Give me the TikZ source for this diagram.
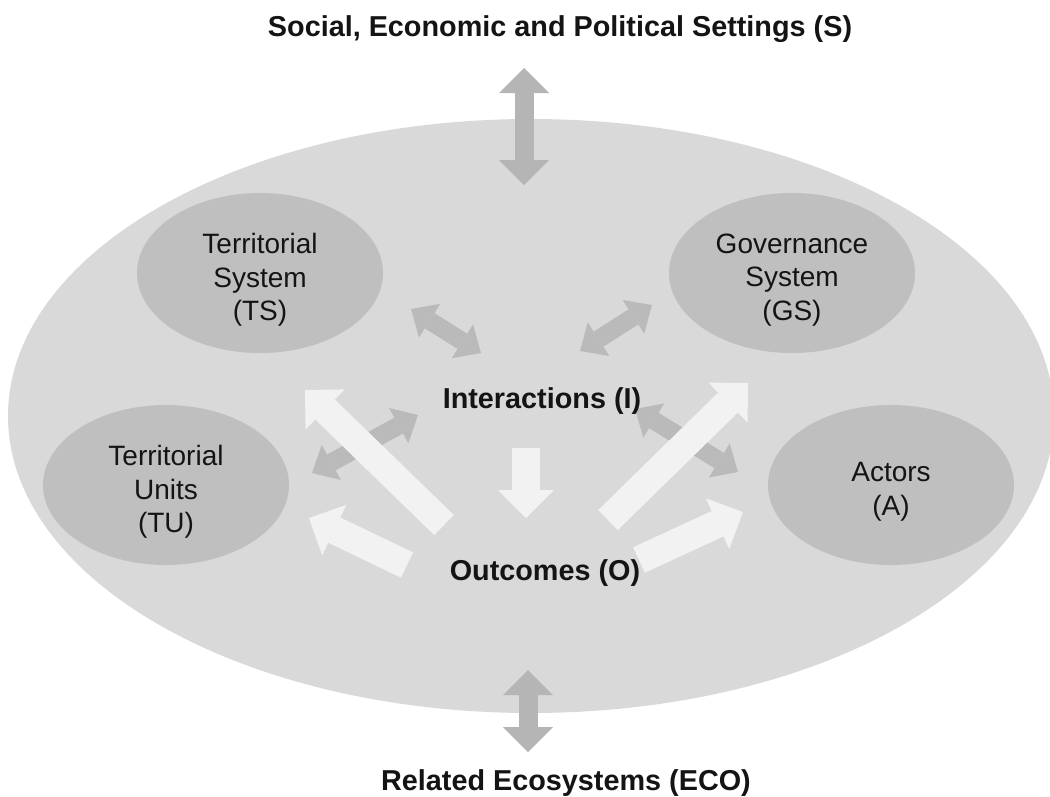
\documentclass[tikz,border=0pt]{standalone}
\usepackage{fontspec}
\setmainfont{Liberation Sans}
\usetikzlibrary{shapes.geometric,arrows.meta}

\definecolor{bgfill}{gray}{0.85}
\definecolor{elfill}{gray}{0.75}
\definecolor{iarcol}{gray}{0.73}
\definecolor{sarcol}{gray}{0.71}
\definecolor{oarcol}{gray}{0.95}
\definecolor{txtcol}{gray}{0.08}

\begin{document}
\begin{tikzpicture}
      [x=1pt,y=-1pt
      ,bell/.style={ellipse,fill=bgfill,inner sep=0pt,minimum width=1046pt,minimum height=594pt}
      ,ell/.style={ellipse,fill=elfill,inner sep=0pt,minimum width=246pt,minimum height=160pt}
      ,etxt/.style={align=center,inner sep=0pt,text=txtcol,font=\fontsize{28}{33.5}\selectfont}
      ,lbl/.style={anchor=base,inner sep=0pt,text=txtcol,font=\fontsize{28.8}{33}\selectfont\bfseries}
      ,itip/.tip={Triangle[length=22pt,width=40pt,line width=0pt]}
      ,stip/.tip={Triangle[length=25pt,width=50pt,line width=0pt]}
      ,otip/.tip={Triangle[length=28pt,width=56pt,line width=0pt]}
      ,iarr/.style={draw=iarcol,line width=18pt,{itip}-{itip}}
      ,sarr/.style={draw=sarcol,line width=19pt,{stip}-{stip}}
      ,oarr/.style={draw=oarcol,line width=28pt,-{otip}}
      ]
        \useasboundingbox (0,0) rectangle (1050,796);
        % outer system and its parts
        \node[bell] (sys) at (531,416) {};
        \node[ell] (ts) at (260,273) {};
        \node[ell] (gs) at (792,273) {};
        \node[ell] (tu) at (166,485) {};
        \node[ell] (ac) at (891,485) {};
        % arrow ends
        \coordinate (s1) at (524,68);   \coordinate (s2) at (524,185);
        \coordinate (e1) at (528,670);  \coordinate (e2) at (528,752);
        \coordinate (i1) at (411,309);  \coordinate (i2) at (481,353);
        \coordinate (i3) at (652,305);  \coordinate (i4) at (580,351);
        \coordinate (i5) at (312,473);  \coordinate (i6) at (418,415);
        \coordinate (i7) at (738,472);  \coordinate (i8) at (635,409);
        \coordinate (o1) at (526,448);  \coordinate (o2) at (526,518);
        \coordinate (o3) at (444,525);  \coordinate (o4) at (305,390);
        \coordinate (o5) at (608,520);  \coordinate (o6) at (748,383);
        \coordinate (o7) at (407,565);  \coordinate (o8) at (309,518);
        \coordinate (o9) at (639,560);  \coordinate (o10) at (743,512);
        \draw[sarr] (s1) -- (s2);
        \draw[sarr] (e1) -- (e2);
        \foreach \a/\b in {i1/i2,i3/i4,i5/i6,i7/i8}{
          \draw[iarr] (\a) -- (\b);
        }
        \foreach \a/\b in {o1/o2,o3/o4,o5/o6,o7/o8,o9/o10}{
          \draw[oarr] (\a) -- (\b);
        }
        % texts
        \node[etxt] (tstxt) at (260,280) {Territorial\\System\\(TS)};
        \node[etxt] (gstxt) at (792,280) {Governance\\System\\(GS)};
        \node[etxt] (tutxt) at (166,492) {Territorial\\Units\\(TU)};
        \node[etxt] (actxt) at (891,492) {Actors\\(A)};
        \node[lbl] (set) at (560,36) {Social, Economic and Political Settings (S)};
        \node[lbl] (eco) at (566,790) {Related Ecosystems (ECO)};
        \node[lbl] (int) at (542,408) {Interactions (I)};
        \node[lbl] (out) at (545,580) {Outcomes (O)};
      \end{tikzpicture}
\end{document}
